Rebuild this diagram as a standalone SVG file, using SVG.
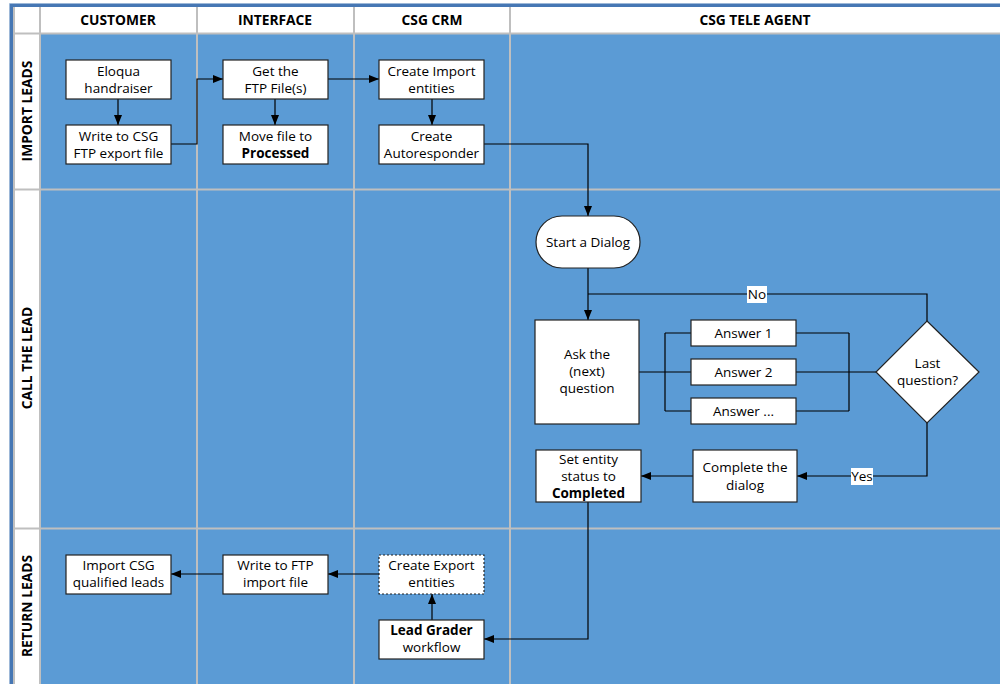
<svg xmlns="http://www.w3.org/2000/svg" width="1000" height="684" viewBox="0 0 1000 684">
<defs>
<style>
.hdr{font-family:"Open Sans","Noto Sans",sans-serif;font-weight:bold;font-size:13.8px;fill:#000;text-anchor:middle}
.t{font-family:"Open Sans","Noto Sans",sans-serif;font-size:13.5px;fill:#000;text-anchor:middle}
.b{font-weight:bold}
.box{fill:#fff;stroke:#222;stroke-width:1.2}
.dash{stroke-dasharray:2 2}
.grid{stroke:#bfbfbf;stroke-width:2;fill:none}
.c{fill:none;stroke:#000;stroke-width:1.2}
.ca{fill:none;stroke:#000;stroke-width:1.2;marker-end:url(#arr)}
.lbl{fill:#fff}
</style>
<marker id="arr" viewBox="0 0 10 8" refX="10" refY="4" markerWidth="10" markerHeight="8" markerUnits="userSpaceOnUse" orient="auto">
<path d="M0,0 L10,4 L0,8 z" fill="#000"/>
</marker>
</defs>
<rect x="0" y="0" width="1000" height="684" fill="#fff"/>
<g id="frame">
<rect x="40" y="33" width="960" height="651" fill="#5b9bd5"/>
<rect x="13" y="7" width="987" height="26" fill="#fff"/>
<rect x="13" y="33" width="27" height="651" fill="#fff"/>
<path d="M11.5,684 V5.5 H1000" fill="none" stroke="#4677b4" stroke-width="3"/>
<path d="M9.5,684 V3.5 H1000" fill="none" stroke="#9db8d8" stroke-width="1"/>
<path class="grid" d="M14,7 V684 M13,33.5 H1000 M40,7 V684 M197,7 V684 M354,7 V684 M510,7 V684 M13,189.5 H1000 M13,528.5 H1000"/>
<text class="hdr" x="118" y="24.5">CUSTOMER</text>
<text class="hdr" x="275" y="24.5">INTERFACE</text>
<text class="hdr" x="432" y="24.5">CSG CRM</text>
<text class="hdr" x="755" y="24.5">CSG TELE AGENT</text>
<text class="hdr" transform="translate(32,111) rotate(-90)">IMPORT LEADS</text>
<text class="hdr" transform="translate(32,358) rotate(-90)">CALL THE LEAD</text>
<text class="hdr" transform="translate(32,606) rotate(-90)">RETURN LEADS</text>
</g>
<g id="connectors">
<path class="ca" d="M118,99 V125"/>
<path class="ca" d="M171,144 H197 V79 H223"/>
<path class="ca" d="M275,99 V125"/>
<path class="ca" d="M328,79 H379"/>
<path class="ca" d="M432,99 V125"/>
<path class="ca" d="M484,144 H588 V216"/>
<path class="ca" d="M588,268 V320"/>
<path class="c" d="M927,321 V294 H588"/>
<path class="c" d="M639,372 H691 M665,333 V411 M665,333 H691 M665,411 H691"/>
<path class="c" d="M796,333 H849 M796,372 H876 M796,411 H849 M849,333 V411"/>
<path class="ca" d="M927,423 V476 H797"/>
<path class="ca" d="M693,476 H641"/>
<path class="ca" d="M588,502 V639 H484"/>
<path class="ca" d="M432,620 V594"/>
<path class="ca" d="M379,574 H328"/>
<path class="ca" d="M223,574 H171"/>
<rect class="lbl" x="747" y="286" width="20" height="17"/>
<text class="t" x="757" y="299">No</text>
<rect class="lbl" x="851" y="468" width="22" height="17"/>
<text class="t" x="862" y="481">Yes</text>
</g>
<g id="n-eloqua"><rect class="box" x="66" y="60" width="105" height="39"/><text class="t" x="118.5" y="75.5">Eloqua</text><text class="t" x="118.5" y="92.5">handraiser</text></g>
<g id="n-write-csg"><rect class="box" x="66" y="125" width="105" height="39"/><text class="t" x="118.5" y="140.5">Write to CSG</text><text class="t" x="118.5" y="157.5">FTP export file</text></g>
<g id="n-get-ftp"><rect class="box" x="223" y="60" width="105" height="39"/><text class="t" x="275.5" y="75.5">Get the</text><text class="t" x="275.5" y="92.5">FTP File(s)</text></g>
<g id="n-move"><rect class="box" x="223" y="125" width="105" height="39"/><text class="t" x="275.5" y="140.5">Move file to</text><text class="t b" x="275.5" y="157.5">Processed</text></g>
<g id="n-import-ent"><rect class="box" x="379" y="60" width="105" height="39"/><text class="t" x="431.5" y="75.5">Create Import</text><text class="t" x="431.5" y="92.5">entities</text></g>
<g id="n-autoresp"><rect class="box" x="379" y="125" width="105" height="39"/><text class="t" x="431.5" y="140.5">Create</text><text class="t" x="431.5" y="157.5">Autoresponder</text></g>
<g id="n-start"><rect class="box" x="536" y="216" width="104" height="52" rx="26" ry="26"/><text class="t" x="588" y="246.5">Start a Dialog</text></g>
<g id="n-ask"><rect class="box" x="535" y="320" width="104" height="104"/><text class="t" x="587" y="359">Ask the</text><text class="t" x="587" y="376">(next)</text><text class="t" x="587" y="393">question</text></g>
<g id="n-ans1"><rect class="box" x="691" y="320" width="105" height="26"/><text class="t" x="743.5" y="337.5">Answer 1</text></g>
<g id="n-ans2"><rect class="box" x="691" y="359" width="105" height="26"/><text class="t" x="743.5" y="376.5">Answer 2</text></g>
<g id="n-ans3"><rect class="box" x="691" y="398" width="105" height="26"/><text class="t" x="743.5" y="415.5">Answer ...</text></g>
<g id="n-last"><path class="box" d="M927,321 L979,372 L927,423 L876,372 Z"/><text class="t" x="927.5" y="368">Last</text><text class="t" x="927.5" y="385">question?</text></g>
<g id="n-complete"><rect class="box" x="693" y="450" width="104" height="52"/><text class="t" x="745" y="471.5">Complete the</text><text class="t" x="745" y="489.5">dialog</text></g>
<g id="n-setstatus"><rect class="box" x="536" y="450" width="105" height="52"/><text class="t" x="588.5" y="463.5">Set entity</text><text class="t" x="588.5" y="480.5">status to</text><text class="t b" x="588.5" y="497.5">Completed</text></g>
<g id="n-import-csg"><rect class="box" x="66" y="555" width="105" height="39"/><text class="t" x="118.5" y="570">Import CSG</text><text class="t" x="118.5" y="587">qualified leads</text></g>
<g id="n-write-ftp"><rect class="box" x="223" y="555" width="105" height="39"/><text class="t" x="275.5" y="570">Write to FTP</text><text class="t" x="275.5" y="587">import file</text></g>
<g id="n-export-ent"><rect class="box dash" x="379" y="555" width="105" height="39"/><text class="t" x="431.5" y="570">Create Export</text><text class="t" x="431.5" y="587">entities</text></g>
<g id="n-leadgrader"><rect class="box" x="379" y="620" width="105" height="39"/><text class="t b" x="431.5" y="635">Lead Grader</text><text class="t" x="431.5" y="652">workflow</text></g>
</svg>
